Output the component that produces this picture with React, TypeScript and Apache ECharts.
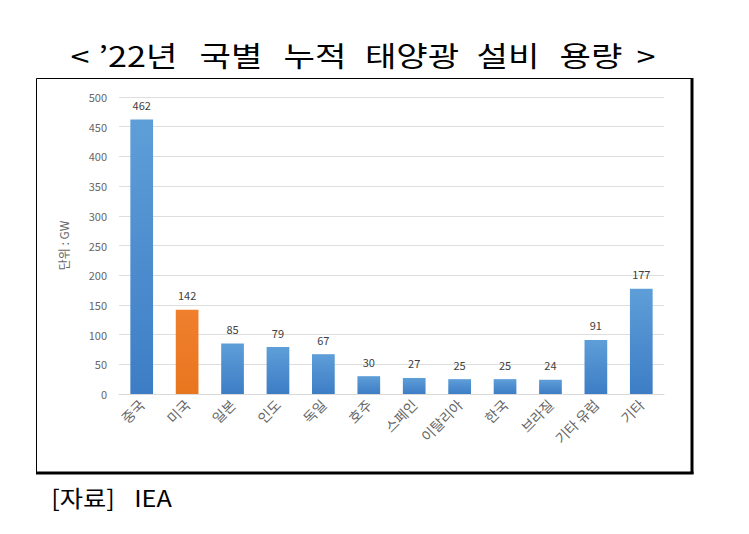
import React, { useEffect, useRef } from "react";
import * as echarts from "echarts";

const categories = ["중국", "미국", "일본", "인도", "독일", "호주", "스페인", "이탈리아", "한국", "브라질", "기타 유럽", "기타"];
const capacity = [462, 142, 85, 79, 67, 30, 27, 25, 25, 24, 91, 177];
const highlightIndex = 1;
const titleWords = ["<", "’22년", "국별", "누적", "태양광", "설비", "용량", ">"];
const titleCenters = [80, 138, 231, 315, 412, 508, 591, 646];
const sourceWords = ["[자료]", "IEA"];
const sourceCenters = [83, 153];
const unitText = "단위 : GW";

const FONT = "'Noto Sans CJK KR', 'Noto Sans', sans-serif";

export default function App() {
  const ref = useRef<HTMLDivElement>(null);
  useEffect(() => {
    if (!ref.current) return;
    const chart = echarts.init(ref.current, null, { renderer: "svg" });
    const blue = new echarts.graphic.LinearGradient(0, 0, 0, 1, [
      { offset: 0, color: "#5e9ed8" },
      { offset: 1, color: "#3d7dc5" },
    ]);
    const orange = new echarts.graphic.LinearGradient(0, 0, 0, 1, [
      { offset: 0, color: "#f07f2e" },
      { offset: 1, color: "#e8761f" },
    ]);
    const titleEls = titleWords.map((w, i) => ({
      type: "text",
      x: titleCenters[i],
      y: 55,
      scaleX: 1.22,
      style: {
        text: w,
        font: `28px ${FONT}`,
        fill: "#000",
        align: "center",
        verticalAlign: "middle",
      },
    }));
    const sourceEls = sourceWords.map((w, i) => ({
      type: "text",
      x: sourceCenters[i],
      y: 497,
      scaleX: 1.1,
      style: {
        text: w,
        font: `23px ${FONT}`,
        fill: "#000",
        align: "center",
        verticalAlign: "middle",
      },
    }));
    chart.setOption({
      animation: false,
      backgroundColor: "#ffffff",
      textStyle: { fontFamily: FONT },
      graphic: [
        {
          type: "rect",
          shape: { x: 36.5, y: 78.5, width: 656, height: 394 },
          style: { fill: "none", stroke: "#000", lineWidth: 1 },
          z: 0,
        },
        {
          type: "line",
          shape: { x1: 692, y1: 78, x2: 692, y2: 474 },
          style: { stroke: "#000", lineWidth: 3 },
        },
        {
          type: "line",
          shape: { x1: 36, y1: 473, x2: 693.5, y2: 473 },
          style: { stroke: "#000", lineWidth: 3 },
        },
        ...titleEls,
        ...sourceEls,
      ],
      grid: { left: 119, right: 85, top: 97, bottom: 140, containLabel: false },
      xAxis: {
        type: "category",
        data: categories,
        axisLine: { show: true, lineStyle: { color: "#d9d9d9" } },
        axisTick: { show: false },
        axisLabel: {
          rotate: 45,
          fontSize: 14,
          color: "#666666",
          margin: 8,
          interval: 0,
          fontFamily: FONT,
        },
      },
      yAxis: {
        type: "value",
        min: 0,
        max: 500,
        interval: 50,
        name: unitText,
        nameLocation: "middle",
        nameRotate: 90,
        nameGap: 50,
        nameTextStyle: { fontSize: 12, color: "#666666", fontFamily: FONT },
        axisLine: { show: false },
        axisTick: { show: false },
        axisLabel: { fontSize: 11, color: "#666666", margin: 12, fontFamily: FONT },
        splitLine: { lineStyle: { color: "#dedede" } },
      },
      series: [
        {
          type: "bar",
          barWidth: "50%",
          data: capacity.map((v, i) => ({
            value: v,
            itemStyle: { color: i === highlightIndex ? orange : blue },
          })),
          label: {
            show: true,
            position: "top",
            distance: 9,
            fontSize: 11,
            color: "#404040",
            fontFamily: FONT,
          },
        },
      ],
    });
    return () => chart.dispose();
  }, []);
  return <div ref={ref} style={{ width: 749, height: 534, position: "absolute", left: 0, top: 0 }} />;
}
